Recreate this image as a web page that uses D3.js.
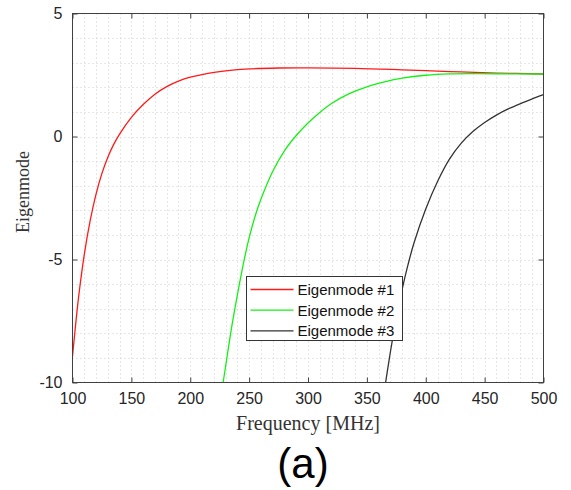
<!DOCTYPE html>
<html>
<head>
<meta charset="utf-8">
<script src="https://cdn.jsdelivr.net/npm/d3@7"></script>
<style>
  body { margin: 0; background: #fff; }
  svg { display: block; }
</style>
</head>
<body>
<svg id="chart" width="571" height="490"></svg>
<script>
// data
const mode1Freq = [100, 105, 110, 115, 120, 125, 130, 135, 140, 150, 160, 170, 180, 190, 200, 215, 230, 250, 275, 300, 340, 380, 420, 460, 500];
const mode1Vals = [-8.94, -6.60, -4.80, -3.42, -2.34, -1.50, -0.84, -0.32, 0.10, 0.78, 1.30, 1.72, 2.03, 2.25, 2.41, 2.57, 2.67, 2.75, 2.785, 2.79, 2.77, 2.71, 2.64, 2.58, 2.54];

const mode2Freq = [226, 230, 235, 240, 245, 250, 255, 260, 270, 280, 290, 300, 310, 320, 335, 350, 365, 380, 400, 420, 440, 460, 500];
const mode2Vals = [-10.6, -9.35, -7.80, -6.45, -5.20, -4.12, -3.25, -2.55, -1.42, -0.58, 0.04, 0.55, 0.98, 1.34, 1.74, 2.02, 2.22, 2.37, 2.49, 2.545, 2.555, 2.55, 2.54];

const mode3Freq = [364, 370, 375, 380, 385, 390, 400, 410, 420, 430, 440, 450, 460, 470, 480, 490, 500];
const mode3Vals = [-10.6, -8.75, -7.38, -6.20, -5.20, -4.33, -2.95, -1.83, -0.93, -0.28, 0.20, 0.57, 0.87, 1.12, 1.33, 1.52, 1.70];

const seriesNames = ['Eigenmode #1', 'Eigenmode #2', 'Eigenmode #3'];
const seriesColors = ['#ff1a1a', '#14f014', '#333333'];

const xTicks = [100, 150, 200, 250, 300, 350, 400, 450, 500];
const yTicks = [-10, -5, 0, 5];

const series = [
    { name: seriesNames[0], color: seriesColors[0], pts: mode1Freq.map((f, i) => [f, mode1Vals[i]]) },
    { name: seriesNames[1], color: seriesColors[1], pts: mode2Freq.map((f, i) => [f, mode2Vals[i]]) },
    { name: seriesNames[2], color: seriesColors[2], pts: mode3Freq.map((f, i) => [f, mode3Vals[i]]) }
];

const svg = d3.select('#chart');
const box = { left: 72.5, right: 543.5, top: 13.5, bottom: 382.5 };

const x = d3.scaleLinear().domain([100, 500]).range([box.left, box.right]);
const y = d3.scaleLinear().domain([-10, 5]).range([box.bottom, box.top]);

const axisColor = '#404040';
const gridColor = '#cfcfcf';

svg.append('rect').attr('width', 571).attr('height', 490).attr('fill', '#fff');

// grid (major + minor, all dotted)
const grid = svg.append('g');
grid.selectAll('line.vx')
    .data(d3.range(110, 500, 10))
    .enter().append('line')
    .attr('x1', d => Math.round(x(d)) + 0.5).attr('x2', d => Math.round(x(d)) + 0.5)
    .attr('y1', box.top).attr('y2', box.bottom)
    .attr('stroke', gridColor).attr('stroke-dasharray', '1,3');
grid.selectAll('line.hy')
    .data(d3.range(-9, 5, 1))
    .enter().append('line')
    .attr('y1', d => Math.round(y(d)) + 0.5).attr('y2', d => Math.round(y(d)) + 0.5)
    .attr('x1', box.left).attr('x2', box.right)
    .attr('stroke', gridColor).attr('stroke-dasharray', '1,3');

// curves
svg.append('clipPath').attr('id', 'clip')
    .append('rect').attr('x', box.left).attr('y', box.top)
    .attr('width', box.right - box.left).attr('height', box.bottom - box.top);

const line = d3.line()
    .x(d => x(d[0]))
    .y(d => y(d[1]))
    .curve(d3.curveCatmullRom.alpha(0.5));

svg.append('g').attr('clip-path', 'url(#clip)')
    .selectAll('path')
    .data(series)
    .enter().append('path')
    .attr('d', d => line(d.pts))
    .attr('fill', 'none')
    .attr('stroke', d => d.color)
    .attr('stroke-width', 1.3);

// axes: ticks inward on all four sides
const tickLen = 5;
const plain = d => String(d);
svg.append('g')
    .attr('transform', `translate(0,${box.bottom})`)
    .call(d3.axisBottom(x).tickValues(xTicks).tickSizeInner(-tickLen).tickSizeOuter(0).tickPadding(10).tickFormat(plain));
svg.append('g')
    .attr('transform', `translate(0,${box.top})`)
    .call(d3.axisTop(x).tickValues(xTicks).tickSizeInner(-tickLen).tickSizeOuter(0).tickFormat(''));
svg.append('g')
    .attr('transform', `translate(${box.left},0)`)
    .call(d3.axisLeft(y).tickValues(yTicks).tickSizeInner(-tickLen).tickSizeOuter(0).tickPadding(10).tickFormat(plain));
svg.append('g')
    .attr('transform', `translate(${box.right},0)`)
    .call(d3.axisRight(y).tickValues(yTicks).tickSizeInner(-tickLen).tickSizeOuter(0).tickFormat(''));

svg.selectAll('.domain').remove();
svg.selectAll('.tick line').attr('stroke', axisColor);
svg.selectAll('.tick text')
    .attr('fill', '#262626')
    .attr('font-family', '"Liberation Sans", Arial, sans-serif')
    .attr('font-size', '16px');

svg.append('rect')
    .attr('x', box.left).attr('y', box.top)
    .attr('width', box.right - box.left).attr('height', box.bottom - box.top)
    .attr('fill', 'none').attr('stroke', axisColor).attr('stroke-width', 1);

// axis titles
svg.append('text')
    .attr('x', (box.left + box.right) / 2)
    .attr('y', 430)
    .attr('text-anchor', 'middle')
    .attr('font-family', '"Liberation Serif", "Times New Roman", serif')
    .attr('font-size', '20px')
    .attr('fill', '#333')
    .text('Frequency [MHz]');

svg.append('text')
    .attr('transform', 'translate(29,192) rotate(-90)')
    .attr('text-anchor', 'middle')
    .attr('font-family', '"Liberation Serif", "Times New Roman", serif')
    .attr('font-size', '18px')
    .attr('fill', '#333')
    .text('Eigenmode');

// legend
const legend = svg.append('g').attr('transform', 'translate(246.5,276.5)');
legend.append('rect')
    .attr('width', 156).attr('height', 64)
    .attr('fill', '#fff').attr('stroke', '#333').attr('stroke-width', 1);
const rows = legend.selectAll('g.row')
    .data(series)
    .enter().append('g')
    .attr('transform', (d, i) => `translate(0,${13 + i * 20.7})`);
rows.append('line')
    .attr('x1', 4).attr('x2', 47)
    .attr('stroke', d => d.color).attr('stroke-width', 1.3);
rows.append('text')
    .attr('x', 51).attr('dy', '0.36em')
    .attr('font-family', '"Liberation Sans", Arial, sans-serif')
    .attr('font-size', '15px')
    .attr('fill', '#111')
    .text(d => d.name);

// panel label
svg.append('text')
    .attr('x', 303).attr('y', 478)
    .attr('text-anchor', 'middle')
    .attr('font-family', '"Liberation Sans", Arial, sans-serif')
    .attr('font-size', '42px')
    .attr('fill', '#000')
    .text('(a)');
</script>
</body>
</html>
